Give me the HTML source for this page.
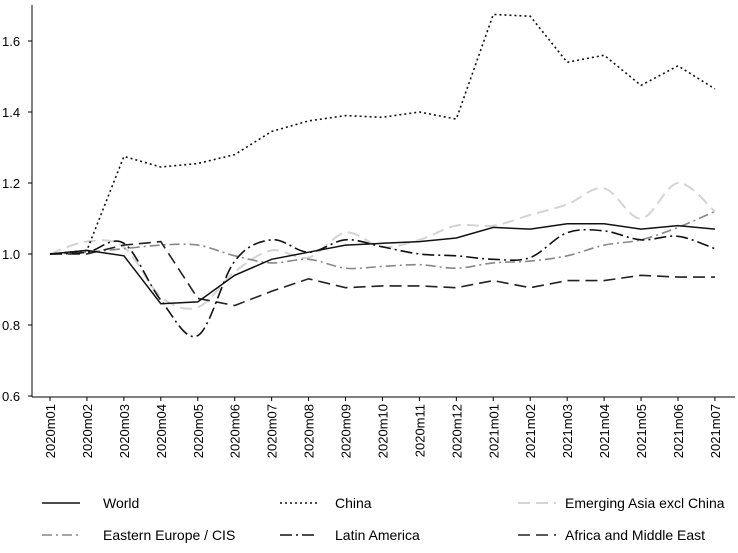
<!DOCTYPE html>
<html><head><meta charset="utf-8"><style>
body{margin:0;background:#fff;}
svg{display:block;font-family:"Liberation Sans",sans-serif;}
</style></head><body>
<svg id="chart" width="738" height="553" viewBox="0 0 738 553"></svg>
<script>
const categories=["2020m01","2020m02","2020m03","2020m04","2020m05","2020m06","2020m07","2020m08","2020m09","2020m10","2020m11","2020m12","2021m01","2021m02","2021m03","2021m04","2021m05","2021m06","2021m07"];
const yTicks=[0.6,0.8,1.0,1.2,1.4,1.6];
const world=[1.0,1.01,0.995,0.86,0.865,0.94,0.985,1.005,1.025,1.03,1.035,1.045,1.075,1.07,1.085,1.085,1.07,1.08,1.07];
const china=[1.0,1.01,1.275,1.245,1.255,1.28,1.345,1.375,1.39,1.385,1.40,1.38,1.675,1.67,1.54,1.56,1.475,1.53,1.465];
const emAsia=[1.0,1.035,1.02,0.88,0.85,0.95,1.01,0.99,1.06,1.02,1.04,1.08,1.08,1.11,1.14,1.185,1.10,1.2,1.12];
const eeCis=[1.0,1.005,1.015,1.025,1.025,0.995,0.975,0.985,0.96,0.965,0.97,0.96,0.975,0.98,0.995,1.025,1.04,1.075,1.12];
const latam=[1.0,1.005,1.03,0.87,0.77,0.98,1.04,1.005,1.04,1.02,1.0,0.995,0.985,0.99,1.06,1.065,1.04,1.05,1.015];
const africa=[1.0,1.0,1.025,1.035,0.875,0.855,0.895,0.93,0.905,0.91,0.91,0.905,0.925,0.905,0.925,0.925,0.94,0.935,0.935];

const svg=document.getElementById('chart');
const NS='http://www.w3.org/2000/svg';
const X0=50,DX=36.94,Y1=254,PX=355;
const xs=i=>X0+DX*i;
const ys=v=>Y1-(v-1)*PX;
function mk(tag,attrs,parent){const e=document.createElementNS(NS,tag);for(const k in attrs)e.setAttribute(k,attrs[k]);(parent||svg).appendChild(e);return e;}

// axes
let ax=mk('line',{x1:32,y1:5,x2:32,y2:397,stroke:'#000','stroke-width':1});


let bx=mk('line',{x1:32,y1:397,x2:735,y2:397,stroke:'#000','stroke-width':1});


yTicks.forEach(t=>{
  const tk=mk('line',{x1:28,x2:32,y1:ys(t),y2:ys(t),stroke:'#000'});
  
  
  const tx=mk('text',{x:2,y:ys(t)+5,'font-size':13,fill:'#000'});
  tx.textContent=t.toFixed(1);
  
  
});
categories.forEach((c,i)=>{
  const tk=mk('line',{x1:xs(i),x2:xs(i),y1:397,y2:401,stroke:'#000'});
  
  
  const tx=mk('text',{x:0,y:0,'font-size':13,fill:'#000','text-anchor':'end',transform:`translate(${xs(i)+5},404) rotate(-90)`});
  tx.textContent=c;
  
  
});
function linePath(d){return d.map((v,i)=>(i?'L':'M')+xs(i).toFixed(1)+','+ys(v).toFixed(1)).join('');}
function smoothPath(d){
  const p=d.map((v,i)=>[xs(i),ys(v)]);let s='M'+p[0][0]+','+p[0][1];
  for(let i=0;i<p.length-1;i++){const a=p[Math.max(0,i-1)],b=p[i],c=p[i+1],e=p[Math.min(p.length-1,i+2)];
    const c1=[b[0]+(c[0]-a[0])/6,b[1]+(c[1]-a[1])/6],c2=[c[0]-(e[0]-b[0])/6,c[1]-(e[1]-b[1])/6];
    s+=`C${c1[0].toFixed(1)},${c1[1].toFixed(1)} ${c2[0].toFixed(1)},${c2[1].toFixed(1)} ${c[0].toFixed(1)},${c[1].toFixed(1)}`;}
  return s;}
const series=[
 {d:emAsia,smooth:true,stroke:'#d4d4d4',dash:'12,6',w:2,name:'emerging-asia-line',label:'Emerging Asia excl China',lx:518,ly:503},
 {d:eeCis,smooth:true,stroke:'#888',dash:'10,4,2,4',w:1.6,name:'eastern-europe-line',label:'Eastern Europe / CIS',lx:42,ly:535},
 {d:africa,smooth:false,stroke:'#222',dash:'12,6',w:1.6,name:'africa-middle-east-line',label:'Africa and Middle East',lx:518,ly:535},
 {d:latam,smooth:true,stroke:'#111',dash:'12,4,2,4',w:1.6,name:'latin-america-line',label:'Latin America',lx:280,ly:535},
 {d:china,smooth:false,stroke:'#111',dash:'2,3',w:1.6,name:'china-line',label:'China',lx:280,ly:503},
 {d:world,smooth:false,stroke:'#111',dash:'',w:1.5,name:'world-line',label:'World',lx:42,ly:503}
];
series.forEach(s=>{
  const p=mk('path',{d:s.smooth?smoothPath(s.d):linePath(s.d),fill:'none',stroke:s.stroke,'stroke-width':s.w,'stroke-dasharray':s.dash});
  
  
  const g=mk('g',{});
  
  
  mk('line',{x1:s.lx,x2:s.lx+38,y1:s.ly,y2:s.ly,stroke:s.stroke,'stroke-width':s.w,'stroke-dasharray':s.dash},g);
  const t=mk('text',{x:s.lx+(s.lx===42?61:(s.lx===280?55:47)),y:s.ly+5,'font-size':14,fill:'#000'},g);
  t.textContent=s.label;
});
</script>
</body></html>
